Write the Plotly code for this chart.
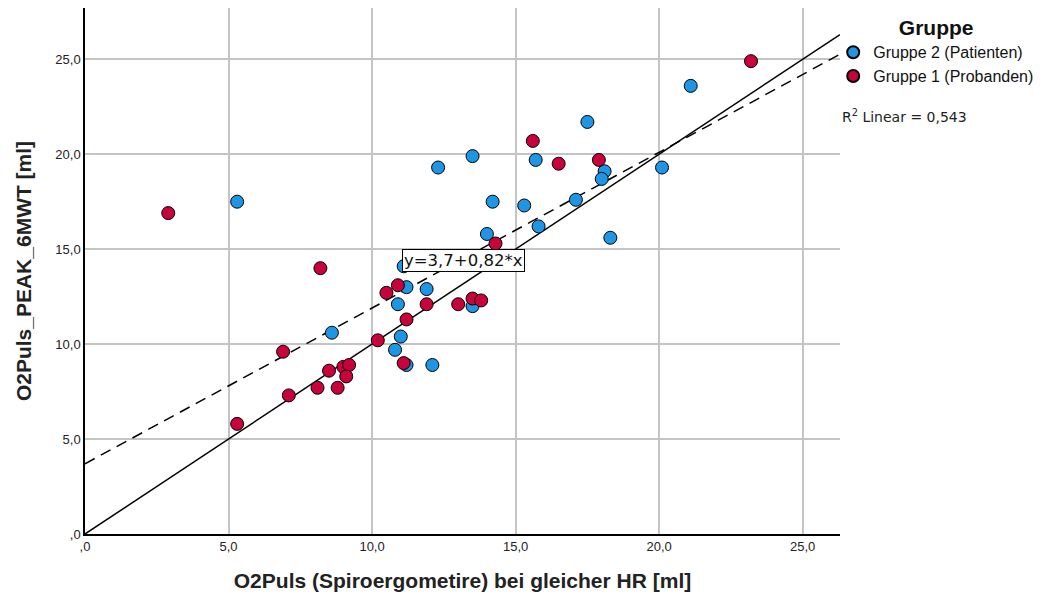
import plotly.graph_objects as go

# ---- data ----
patienten_x = [5.3, 8.6, 12.3, 13.5, 15.7, 18.1, 18.0, 14.2, 15.3, 17.1, 15.8, 18.3, 14.0,
               11.1, 11.2, 11.9, 10.9, 13.5, 11.0, 10.8, 11.2, 12.1, 21.1, 17.5, 20.1]
patienten_y = [17.5, 10.6, 19.3, 19.9, 19.7, 19.1, 18.7, 17.5, 17.3, 17.6, 16.2, 15.6, 15.8,
               14.1, 13.0, 12.9, 12.1, 12.0, 10.4, 9.7, 8.9, 8.9, 23.6, 21.7, 19.3]

probanden_x = [2.9, 8.2, 6.9, 7.1, 5.3, 8.5, 9.0, 9.2, 9.1, 8.1, 8.8, 10.2, 15.6, 16.5, 17.9,
               14.3, 10.9, 10.5, 11.9, 13.0, 13.5, 13.8, 11.2, 11.1, 23.2]
probanden_y = [16.9, 14.0, 9.6, 7.3, 5.8, 8.6, 8.8, 8.9, 8.3, 7.7, 7.7, 10.2, 20.7, 19.5, 19.7,
               15.3, 13.1, 12.7, 12.1, 12.1, 12.4, 12.3, 11.3, 9.0, 24.9]

fit_intercept = 3.7
fit_slope = 0.82
r_squared = "0,543"

x_range = [0, 26.3]
y_range = [0, 27.7]
tick_vals = [0, 5, 10, 15, 20, 25]
tick_text = [",0", "5,0", "10,0", "15,0", "20,0", "25,0"]

BLUE = "#1f96e3"
RED = "#c8023a"

fig = go.Figure()

# reference line y = x
fig.add_trace(go.Scatter(x=x_range, y=x_range, mode="lines",
                         line=dict(color="black", width=1.5), showlegend=False, hoverinfo="skip"))
# linear fit line (dashed)
fig.add_trace(go.Scatter(x=x_range, y=[fit_intercept + fit_slope * v for v in x_range], mode="lines",
                         line=dict(color="black", width=1.5, dash="11px,7px"), showlegend=False, hoverinfo="skip"))

fig.add_trace(go.Scatter(x=patienten_x, y=patienten_y, mode="markers", name="Gruppe 2 (Patienten)",
                         marker=dict(color=BLUE, size=13, line=dict(color="black", width=1))))
fig.add_trace(go.Scatter(x=probanden_x, y=probanden_y, mode="markers", name="Gruppe 1 (Probanden)",
                         marker=dict(color=RED, size=13, line=dict(color="black", width=1))))

axis_common = dict(
    tickvals=tick_vals, ticktext=tick_text, showgrid=True, gridcolor="#c4c4c4", gridwidth=1.5,
    zeroline=False, showline=True, linecolor="black", linewidth=1.5, ticks="",
    tickfont=dict(family="Liberation Sans, Arial", size=13, color="#222"),
)

fig.update_layout(
    width=1043, height=599,
    margin=dict(l=85, r=203, t=8, b=65, autoexpand=False),
    paper_bgcolor="white", plot_bgcolor="white",
    xaxis=dict(range=x_range, **axis_common,
               title=dict(text="O2Puls (Spiroergometire) bei gleicher HR [ml]", standoff=20,
                          font=dict(family="Liberation Sans, Arial", size=21, color="#222", weight="bold"))),
    yaxis=dict(range=y_range, **axis_common,
               title=dict(text="O2Puls_PEAK_6MWT [ml]", standoff=18,
                          font=dict(family="Liberation Sans, Arial", size=21, color="#222", weight="bold"))),
    legend=dict(x=0.991, y=1.0, xanchor="left", yanchor="top", bgcolor="rgba(0,0,0,0)",
                title=dict(text="<b>Gruppe</b>", side="top center",
                           font=dict(family="Liberation Sans, Arial", size=21, color="#111")),
                font=dict(family="Liberation Sans, Arial", size=16, color="#111"),
                itemsizing="constant", itemwidth=30, tracegroupgap=0),
    showlegend=True,
    annotations=[
        dict(text=f"R<sup>2</sup> Linear = {r_squared}", xref="paper", yref="paper",
             x=1.0, y=0.795, xanchor="left", yanchor="middle", showarrow=False,
             font=dict(family="DejaVu Sans", size=14, color="#222")),
        dict(text=f"y=3,7+0,82*x", xref="x", yref="y", x=13.2, y=14.4,
             xanchor="center", yanchor="middle", showarrow=False,
             font=dict(family="DejaVu Sans", size=16.5, color="#111"),
             bgcolor="white", bordercolor="black", borderwidth=1, borderpad=1),
    ],
)

fig.write_html("out.html")
